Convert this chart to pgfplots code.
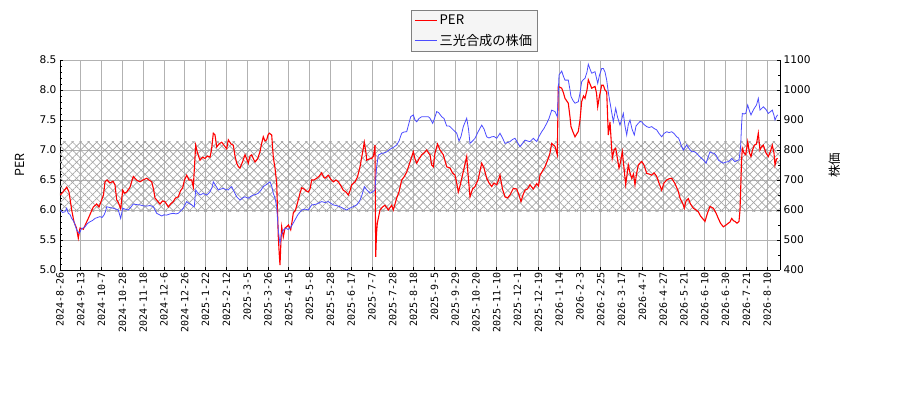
\documentclass[border=0pt]{standalone}
\usepackage{fontspec}
\setmainfont{DejaVu Sans}
\newfontfamily\cjk{Noto Sans CJK JP}
\newfontfamily\monof{DejaVu Sans Mono}
\usepackage{pgfplots}
\pgfplotsset{compat=1.18}
\usetikzlibrary{patterns.meta}

\definecolor{perred}{rgb}{1,0,0}
\definecolor{pricebl}{rgb}{0.30,0.30,1}

\pgfplotsset{
  common/.style={
    scale only axis, width=720pt, height=210pt,
    at={(0pt,0pt)}, anchor=south west,
    xmin=60, xmax=780,
    tick align=inside,
    major tick length=3.5pt, minor tick length=2pt,
    tick style={black, line width=0.8pt},
    axis line style={black, line width=0.8pt, -},
    /pgf/number format/assume math mode=true,
    yticklabel style={font=\fontsize{10.6}{12}\selectfont},
  },
}

\begin{document}
\begin{tikzpicture}
\path[use as bounding box] (-60pt,-130pt) rectangle (840pt,270pt);

% PER axis (left)
\begin{axis}[
common,
axis x line*=bottom, axis y line*=left,
ymin=5, ymax=8.5,
ytick={5,5.5,...,8.5}, minor y tick num=4,
yticklabel style={/pgf/number format/.cd, fixed, fixed zerofill, precision=1},
xtick={60,80.8,101.6,122.4,143.2,164,184.8,205.6,226.4,247.2,268,288.8,309.6,330.4,351.2,372,392.8,413.6,434.4,455.2,476,496.8,517.6,538.4,559.2,580,600.8,621.6,642.4,663.2,684,704.8,725.6,746.4,767.2},
xticklabels={2024-8-26,2024-9-13,2024-10-7,2024-10-28,2024-11-18,2024-12-6,2024-12-26,2025-1-22,2025-2-12,2025-3-5,2025-3-26,2025-4-15,2025-5-8,2025-5-28,2025-6-17,2025-7-7,2025-7-28,2025-8-18,2025-9-5,2025-9-29,2025-10-20,2025-11-10,2025-12-1,2025-12-19,2026-1-14,2026-2-3,2026-2-25,2026-3-17,2026-4-7,2026-4-27,2026-5-21,2026-6-10,2026-6-30,2026-7-21,2026-8-10},
xticklabel style={rotate=90, anchor=east, font=\monof\fontsize{10}{12}\selectfont, inner sep=2pt},
grid=major,
major grid style={color=black!30, line width=0.8pt},
ylabel={PER},
ylabel style={at={(axis description cs:-0.0556,0.5)}, anchor=center, font=\cjk\fontsize{12.5}{14}\selectfont},
]
% hatched band
\addplot[draw=none, forget plot, pattern={Lines[angle=45,distance=5.7pt,line width=0.7pt]}, pattern color=black!36]
coordinates {(60,5.98) (780,5.98) (780,7.14) (60,7.14) (60,5.98)};
\addplot[draw=none, forget plot, pattern={Lines[angle=-45,distance=5.7pt,line width=0.7pt]}, pattern color=black!36]
coordinates {(60,5.98) (780,5.98) (780,7.14) (60,7.14) (60,5.98)};

\addplot[perred, line width=1.1pt, forget plot] coordinates {
(60.3,6.25) (63,6.3) (66.7,6.38) (69,6.3) (71.7,6.0) (74,5.8) (76.5,5.7) (78.3,5.53) (80,5.7) (83.3,5.68)
(88.3,5.86) (93.3,6.05) (96.7,6.1) (99,6.05) (101.7,6.17) (103.5,6.25) (105,6.47) (107,6.5) (110,6.45) (113,6.48)
(115,6.42) (116.7,6.17) (118.5,6.12) (120.7,6.02) (122.7,6.33) (124.5,6.28) (126.7,6.3) (130,6.38) (133.3,6.56) (136.5,6.5)
(140,6.47) (143,6.5) (146.7,6.53) (149,6.5) (151.7,6.47) (153.5,6.35) (155,6.2) (157.5,6.15) (160,6.1) (162.5,6.15)
(165,6.14) (168.3,6.05) (170.5,6.1) (173.3,6.14) (175.5,6.2) (178.3,6.22) (180.5,6.32) (182.7,6.37) (184.5,6.5) (186.7,6.58)
(189,6.5) (191.7,6.5) (193.3,6.38) (195.7,7.08) (197.5,6.95) (200,6.83) (202.5,6.88) (205,6.86) (207.5,6.9) (210,6.88)
(211.5,7.0) (213.3,7.28) (215,7.25) (216.7,7.05) (219,7.1) (221.7,7.13) (224,7.08) (226.7,7.02) (228.3,7.17) (231,7.1)
(233.3,7.08) (235,6.9) (236.7,6.78) (238.5,6.72) (240,6.7) (242.5,6.8) (245,6.92) (246.7,6.85) (248.3,6.78) (250,6.9)
(251.7,6.92) (253.5,6.85) (255,6.8) (257.5,6.85) (260,6.97) (261.5,7.1) (263.3,7.22) (265,7.15) (266.7,7.17) (268,7.25)
(269.3,7.28) (271.7,7.25) (273.3,6.88) (275,6.7) (276.7,6.45) (277.5,6.0) (278.3,5.55) (279.3,5.25) (280,5.08) (281,5.5)
(281.7,5.72) (283.3,5.55) (285,5.7) (286.7,5.72) (288.5,5.75) (290.7,5.67) (292,5.8) (293.3,5.95) (295.5,6.0) (298.3,6.17)
(300,6.28) (301.7,6.37) (304,6.35) (306,6.32) (308.3,6.3) (310,6.35) (311.7,6.5) (314,6.5) (316.7,6.53) (319,6.56)
(321.7,6.62) (323.5,6.55) (325,6.53) (328.3,6.58) (330.5,6.52) (333.3,6.47) (336,6.5) (338.3,6.47) (341,6.4) (343.3,6.33)
(346,6.3) (348.3,6.25) (350,6.32) (351.7,6.42) (355,6.47) (357.5,6.55) (360,6.72) (362.5,6.95) (364.3,7.13) (366,6.95)
(366.7,6.83) (369,6.85) (371.7,6.86) (373.5,6.9) (375,7.08) (375.7,5.22) (376.5,5.6) (377.3,5.78) (380,6.0) (382.5,6.05)
(385,6.08) (388.3,6.0) (391.7,6.08) (393.3,6.0) (395,6.1) (396.7,6.2) (399,6.3) (401.7,6.5) (404,6.55) (406.7,6.63)
(409,6.75) (411,6.85) (413.3,6.97) (415,6.85) (416.7,6.78) (419,6.85) (421.7,6.92) (424,6.95) (426.7,7.0) (428.5,6.95)
(430,6.92) (431.7,6.75) (433.3,6.72) (435,6.95) (437.5,7.1) (440,7.0) (443.3,6.92) (446.7,6.72) (450,6.7) (452.5,6.62)
(455,6.58) (456.7,6.45) (458.3,6.3) (460,6.4) (463.3,6.64) (466.7,6.89) (468,6.6) (470,6.22) (472.5,6.35) (475,6.39)
(478,6.5) (481.7,6.78) (484,6.7) (486.7,6.53) (489,6.45) (491.7,6.39) (494,6.45) (496.7,6.42) (498.5,6.5) (500,6.58)
(502.5,6.35) (505,6.22) (507.5,6.2) (510,6.25) (513.3,6.36) (516.7,6.35) (519,6.25) (521,6.14) (523,6.25) (525,6.33)
(527.5,6.35) (530,6.42) (533.3,6.35) (536.7,6.44) (538.5,6.4) (540,6.58) (542.5,6.65) (545,6.72) (548.3,6.86) (550,6.95)
(551.7,7.11) (555,7.06) (557.3,6.92) (558.3,8.06) (561.7,8.03) (563.5,7.95) (565,7.86) (568.3,7.78) (570,7.55) (571,7.39)
(573,7.3) (575,7.22) (578.3,7.31) (580,7.5) (581.7,7.81) (583.5,7.9) (585,7.86) (587,8.0) (588.3,8.17) (590,8.1)
(591.7,8.03) (595,8.06) (596.5,7.95) (597.7,7.72) (599.5,7.9) (601.7,8.08) (603.3,8.08) (605,8.0) (606.7,7.97) (608.3,7.25)
(610,7.47) (612.3,6.86) (614,7.0) (615.7,7.03) (617.5,6.85) (619,6.7) (620.5,6.8) (622.3,6.97) (624,6.7) (625.7,6.42)
(628.3,6.75) (630,6.62) (631.7,6.53) (633.5,6.6) (635,6.42) (636.5,6.6) (638.3,6.75) (640,6.78) (641.7,6.81) (644,6.75)
(646.7,6.61) (649,6.6) (651.7,6.58) (654,6.62) (656.7,6.56) (659,6.45) (661.7,6.33) (664,6.45) (666.7,6.5) (669,6.52)
(671.7,6.53) (673.5,6.48) (675,6.44) (678.3,6.31) (680,6.2) (681.7,6.14) (683,6.1) (684.3,6.03) (686,6.15) (688.3,6.19)
(690.5,6.1) (693.3,6.03) (696,6.0) (698.3,5.97) (700.5,5.9) (703,5.85) (705,5.81) (707.5,5.95) (710,6.06) (713.3,6.03)
(716,5.95) (718.3,5.86) (720.5,5.78) (723.3,5.72) (726,5.75) (728.3,5.78) (730,5.8) (731.7,5.86) (733.5,5.82) (735,5.81)
(737,5.78) (739,5.81) (740,6.0) (740.7,6.36) (741.5,6.8) (742.3,7.03) (744,6.95) (745.7,6.92) (747.7,7.14) (749.5,6.95)
(751,6.89) (752.5,7.0) (754.3,7.08) (756.5,7.1) (758.3,7.28) (760,7.0) (761.5,7.05) (763.3,7.08) (766,6.95) (768.3,6.89)
(770.5,6.98) (772.3,7.08) (774,6.95) (775,6.75) (776.5,6.85) (777.7,6.86)
};
\end{axis}

% price axis (right)
\begin{axis}[
common,
axis x line=none, axis y line*=right,
ymin=400, ymax=1100,
ytick={400,500,...,1100}, minor y tick num=1,
yticklabel style={/pgf/number format/1000 sep={}},
ylabel={株価},
ylabel style={at={(axis description cs:1.0764,0.5)}, anchor=center, font=\cjk\fontsize{12.5}{14}\selectfont},
legend cell align=left,
legend image code/.code={\draw[#1] (0pt,0pt) -- (17pt,0pt); \path (0pt,0pt) -- (22pt,0pt);},
legend style={at={(axis description cs:0.4871,1.2381)}, anchor=north west,
  draw=black!50, fill=black!4, line width=0.8pt,
  font=\cjk\fontsize{13.2}{15}\selectfont,
  inner xsep=3pt, inner ysep=2.5pt, row sep=4pt},
]
\addlegendimage{perred, line width=1.5pt}
\addlegendentry{PER}
\addplot[pricebl, line width=0.8pt] coordinates {
(60.3,600) (62.5,592) (65,594) (66.7,606) (68.3,589) (70,585) (71.7,572) (74,561) (76.7,533) (78,528)
(79.3,522) (81.7,539) (83.5,540) (85,544) (87.5,555) (90,561) (92.5,565) (95,572) (97.5,575) (100,578)
(102,575) (104,583) (105.5,595) (106.7,611) (110,608) (113.3,606) (116,603) (118.3,600) (120.7,572) (122.7,606)
(125,603) (128.3,600) (131,610) (133.3,620) (136.5,618) (140,617) (143,614) (146.7,613) (150,615) (153.3,611)
(155,600) (156.7,589) (159,585) (161.7,580) (164,584) (166.7,583) (170,587) (173.3,589) (176,587) (178.3,589)
(181,598) (183.3,606) (185,618) (186.7,628) (189,622) (191.7,617) (193,613) (194.3,611) (195.7,667) (197.5,658)
(200,650) (203,655) (206.7,650) (208.5,655) (210,661) (212,675) (213.3,694) (215,685) (218.3,667) (221,670)
(223.3,672) (226,668) (228.3,667) (230,673) (231.7,678) (233.5,665) (236.7,644) (238.5,638) (240,633) (242.5,640)
(245,644) (248.3,639) (250.5,645) (253.3,650) (256,652) (258.3,656) (261,666) (263.3,678) (266.5,685) (270,694)
(271.7,680) (273.3,656) (275,640) (276.7,611) (277.5,570) (278.3,533) (279.3,505) (280,489) (281.5,520) (283.3,533)
(286,540) (288,535) (290,539) (292.5,552) (295,567) (298,585) (301.7,600) (305,603) (308.3,600) (311.7,617)
(314,618) (316.7,620) (319,624) (321.7,628) (325,625) (328.3,628) (331,622) (333.3,617) (336,615) (340,611)
(343.3,605) (346.7,600) (349,605) (351.7,609) (355,614) (356.7,617) (358.5,625) (360,633) (362,650) (364.3,678)
(366.5,668) (370,656) (372.5,660) (375,667) (376.5,740) (378.3,783) (381.7,789) (384,790) (386.7,794) (389,800)
(391.7,806) (394,810) (396.7,817) (399,830) (401.7,856) (404,860) (406.7,861) (409,890) (410.7,911) (413.3,917)
(415,900) (416.7,894) (419,905) (421.7,911) (424,911) (428.3,911) (430,906) (432.7,889) (434.5,905) (436.7,928)
(438.5,925) (441.7,911) (444,905) (446.7,880) (449,880) (450,878) (453,868) (456.7,856) (459,830) (461,845)
(463.3,878) (466.7,906) (468.5,870) (470,822) (472.5,830) (475,839) (478,860) (481.7,883) (484,870) (486.7,844)
(489,840) (491.7,844) (494,845) (496.7,839) (498.5,848) (500,856) (502.5,840) (505,822) (507.5,825) (510,828)
(512.5,835) (515,839) (517.5,825) (520,811) (522.5,822) (525,833) (527.5,830) (530,828) (533.3,839) (536.7,828)
(539,845) (541.7,861) (544,872) (546.7,889) (549,905) (551.7,933) (555,928) (557.3,911) (559,1050) (561.7,1063)
(563.5,1045) (565,1033) (568.3,1033) (570,1000) (571,978) (573,965) (575,956) (578.3,961) (580,990) (581.7,1028)
(583.5,1035) (585,1039) (587,1060) (588.3,1086) (590,1070) (591.7,1056) (595,1061) (596.5,1040) (597.7,1022) (599.5,1050)
(601.7,1072) (603.3,1072) (605,1060) (606.7,1033) (608,1000) (609,978) (611,939) (613.3,894) (615.7,939) (617.5,910)
(620,883) (621.5,900) (623.3,922) (625,880) (626.7,850) (628.3,885) (630,900) (632,870) (634.3,850) (636,880)
(638.3,889) (640,895) (641.7,894) (644,885) (646.7,878) (649,875) (651.7,878) (654,872) (656.7,867) (659,855)
(661.7,844) (664,855) (666.7,861) (669,858) (671.7,861) (674,855) (676.7,844) (678.5,840) (680,828) (681.5,812)
(683.3,800) (685,808) (686.7,817) (689,805) (691.7,794) (694,795) (696.7,789) (699,780) (701.7,772) (704,765)
(706,756) (708,775) (710,794) (712,790) (714.3,789) (716.5,780) (718.3,767) (721,760) (723.3,756) (726,760)
(728.3,761) (730,766) (731.7,772) (733.5,766) (735,761) (737,765) (739,767) (740,790) (740.7,817) (741.5,880)
(742.3,922) (744,920) (745.7,922) (747.7,950) (749.5,930) (751,917) (752.5,928) (754.3,939) (756.5,950) (758.3,972)
(760,933) (761.5,938) (763.3,944) (766,935) (768.3,922) (770.5,928) (772.3,933) (774,915) (775,900) (776.5,912)
(777.7,917)
};
\addlegendentry{三光合成の株価}
\end{axis}
\end{tikzpicture}
\end{document}
